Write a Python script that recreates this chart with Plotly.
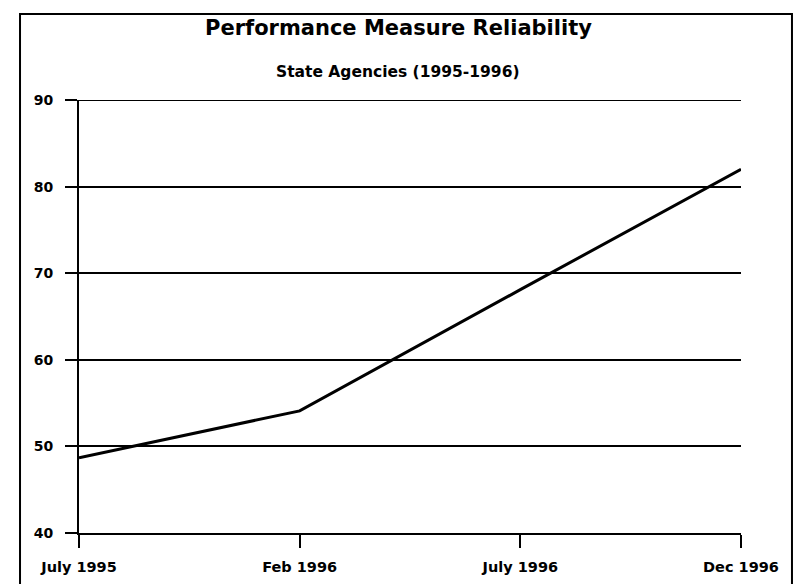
import plotly.graph_objects as go

categories = ["July 1995", "Feb 1996", "July 1996", "Dec 1996"]
reliability = [48.7, 54.1, 68.1, 82.0]
y_ticks = [40, 50, 60, 70, 80, 90]

title_text = "Performance Measure Reliability"
subtitle_text = "State Agencies (1995-1996)"

FONT = "DejaVu Sans"

fig = go.Figure()
fig.add_trace(go.Scatter(
    x=categories, y=reliability, mode="lines",
    line=dict(color="black", width=3),
    showlegend=False, hoverinfo="skip",
))

fig.update_layout(
    width=796, height=584,
    margin=dict(l=79, r=55, t=100, b=51),
    paper_bgcolor="white", plot_bgcolor="white",
    font=dict(family=FONT, color="black"),
    xaxis=dict(
        type="category", range=[0, len(categories) - 1],
        showgrid=False, zeroline=False, automargin=False,
        showline=True, linecolor="black", linewidth=2,
        ticks="outside", ticklen=13, tickwidth=2, tickcolor="black",
        tickfont=dict(family=FONT, size=14.5, weight="bold", color="black"),
        ticklabelstandoff=7,
    ),
    yaxis=dict(
        range=[40, 90], tickvals=y_ticks,
        showgrid=True, gridcolor="black", gridwidth=2,
        zeroline=False, automargin=False,
        showline=True, linecolor="black", linewidth=2,
        ticks="outside", ticklen=12, tickwidth=2, tickcolor="black",
        tickfont=dict(family=FONT, size=14, weight="bold", color="black"),
        ticklabelstandoff=9,
    ),
    annotations=[
        dict(text=title_text, xref="paper", yref="paper", x=0.482, y=1.166,
             xanchor="center", yanchor="middle", showarrow=False,
             font=dict(family=FONT, size=21, weight="bold", color="black")),
        dict(text=subtitle_text, xref="paper", yref="paper", x=0.482, y=1.065,
             xanchor="center", yanchor="middle", showarrow=False,
             font=dict(family=FONT, size=15.5, weight="bold", color="black")),
    ],
    shapes=[
        dict(type="rect", xref="paper", yref="paper",
             x0=-0.0891, x1=1.077, y0=-0.2, y1=1.1986,
             line=dict(color="black", width=2), fillcolor="rgba(0,0,0,0)",
             layer="below"),
        dict(type="line", xref="paper", yref="y",
             x0=0, x1=1, y0=max(y_ticks), y1=max(y_ticks),
             line=dict(color="black", width=2)),
    ],
)

fig.write_html("out.html", post_script="document.body.style.margin='0';",
               config={"displayModeBar": False})
